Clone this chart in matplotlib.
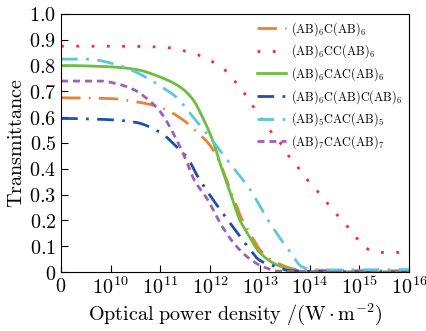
import matplotlib
matplotlib.use("Agg")
import matplotlib.pyplot as plt
import numpy as np

plt.rcParams["mathtext.fontset"] = "cm"
plt.rcParams["font.family"] = "serif"

# x in log10(W/m^2); the "0" tick sits at the 10^9 position
x_ticks = [9, 10, 11, 12, 13, 14, 15, 16]
x_tick_labels = ["$0$"] + [rf"$10^{{{e}}}$" for e in range(10, 17)]
y_ticks = [0, 0.1, 0.2, 0.3, 0.4, 0.5, 0.6, 0.7, 0.8, 0.9, 1.0]
y_tick_labels = ["$0$"] + [f"${v:.1f}$" for v in y_ticks[1:]]

orange_x = [9, 10, 10.5, 11, 11.45, 11.75, 12.0, 12.2, 12.4, 12.65, 12.8, 13.05, 13.35, 13.75, 14, 16]
orange_y = [0.675, 0.672, 0.66, 0.638, 0.59, 0.54, 0.49, 0.42, 0.32, 0.20, 0.15, 0.075, 0.035, 0.01, 0.008, 0.005]

red_x = [9, 10, 11.0, 11.65, 11.9, 12.35, 12.57, 12.75, 12.9, 13.07, 13.25, 13.45, 13.6, 13.79, 13.97,
         14.17, 14.35, 14.55, 14.75, 14.93, 15.13, 15.4, 16]
red_y = [0.875, 0.875, 0.872, 0.848, 0.829, 0.774, 0.72, 0.677, 0.63, 0.584, 0.537, 0.49, 0.444, 0.40, 0.354,
         0.311, 0.268, 0.222, 0.179, 0.136, 0.093, 0.076, 0.076]

green_x = [9, 10, 10.5, 11, 11.4, 11.65, 11.87, 12.07, 12.2, 12.4, 12.6, 12.75, 13.0, 13.35, 13.75, 14, 16]
green_y = [0.80, 0.795, 0.785, 0.755, 0.716, 0.669, 0.59, 0.50, 0.42, 0.31, 0.20, 0.15, 0.075, 0.027, 0.005, 0.0, 0.0]

blue_x = [9, 10, 10.5, 11, 11.3, 11.55, 11.75, 12.15, 12.4, 12.75, 13.0, 13.35, 13.6, 16]
blue_y = [0.595, 0.59, 0.58, 0.54, 0.49, 0.44, 0.37, 0.255, 0.19, 0.10, 0.045, 0.02, 0.005, 0.0]

cyan_x = [9, 9.5, 10.1, 10.5, 11, 11.3, 11.7, 12.0, 12.4, 12.8, 13.2, 13.6, 13.85, 14.1, 16]
cyan_y = [0.825, 0.825, 0.805, 0.775, 0.72, 0.68, 0.59, 0.52, 0.42, 0.32, 0.19, 0.08, 0.02, 0.008, 0.01]

purple_x = [9, 9.8, 10.15, 10.45, 10.8, 11.0, 11.25, 11.5, 11.67, 11.95, 12.2, 12.47, 12.75, 13.07, 13.4, 16]
purple_y = [0.74, 0.74, 0.728, 0.708, 0.66, 0.62, 0.54, 0.44, 0.36, 0.28, 0.19, 0.113, 0.058, 0.02, 0.003, 0.0]

labels = [
    r"$\mathrm{(AB)_6C(AB)_6}$",
    r"$\mathrm{(AB)_6CC(AB)_6}$",
    r"$\mathrm{(AB)_6CAC(AB)_6}$",
    r"$\mathrm{(AB)_6C(AB)C(AB)_6}$",
    r"$\mathrm{(AB)_5CAC(AB)_5}$",
    r"$\mathrm{(AB)_7CAC(AB)_7}$",
]


def pchip(x, y, n=400):
    """Monotone cubic through the read-off points, only for a smooth drawn line."""
    x = np.asarray(x, float)
    y = np.asarray(y, float)
    h = np.diff(x)
    delta = np.diff(y) / h
    d = np.zeros_like(y)
    for k in range(1, len(x) - 1):
        if delta[k - 1] * delta[k] > 0:
            w1 = 2 * h[k] + h[k - 1]
            w2 = h[k] + 2 * h[k - 1]
            d[k] = (w1 + w2) / (w1 / delta[k - 1] + w2 / delta[k])
    d[0] = delta[0] if abs(delta[0]) < 1e-9 else 0.0
    d[-1] = 0.0
    xs = np.linspace(x[0], x[-1], n)
    idx = np.clip(np.searchsorted(x, xs) - 1, 0, len(x) - 2)
    t = (xs - x[idx]) / h[idx]
    h00 = 2 * t**3 - 3 * t**2 + 1
    h10 = t**3 - 2 * t**2 + t
    h01 = -2 * t**3 + 3 * t**2
    h11 = t**3 - t**2
    ys = h00 * y[idx] + h10 * h[idx] * d[idx] + h01 * y[idx + 1] + h11 * h[idx] * d[idx + 1]
    return xs, ys


fig = plt.figure(figsize=(4.27, 3.31), dpi=100)
ax = fig.add_axes([0.143, 0.178, 0.815, 0.78])

ax.plot(*pchip(orange_x, orange_y), color="#f08030", lw=2.0, dashes=(7, 3, 0.6, 3), label=labels[0])
ax.plot(*pchip(red_x, red_y), color="#ff2a2a", lw=2.0, dashes=(1, 4.5), label=labels[1])
ax.plot(*pchip(green_x, green_y), color="#6cbf3e", lw=2.0, label=labels[2])
ax.plot(*pchip(blue_x, blue_y), color="#1f4fae", lw=2.0, dashes=(6, 3, 1, 3), label=labels[3])
ax.plot(*pchip(cyan_x, cyan_y), color="#5cc8da", lw=2.0, dashes=(6, 3, 1, 3), label=labels[4])
ax.plot(*pchip(purple_x, purple_y), color="#a35cb8", lw=2.0, dashes=(2.5, 1.8), label=labels[5])

ax.set_xlim(9, 16)
ax.set_ylim(0, 1.0)
ax.set_xticks(x_ticks)
ax.set_xticklabels(x_tick_labels, fontsize=14.5)
ax.set_yticks(y_ticks)
ax.set_yticklabels(y_tick_labels, fontsize=14.5)
ax.tick_params(direction="in", length=5, width=0.8, top=False, right=False)
ax.set_xlabel(r"$\mathrm{Optical\ power\ density\ /(W\cdot m^{-2})}$", fontsize=14.5, labelpad=2)
ax.set_ylabel(r"$\mathrm{Transmittance}$", fontsize=14.5, labelpad=2)

ax.legend(loc="upper right", frameon=False, fontsize=8.8, handlelength=2.4,
          labelspacing=0.4, borderaxespad=0.1, handletextpad=0.4)

fig.savefig("out.png", dpi=100)
